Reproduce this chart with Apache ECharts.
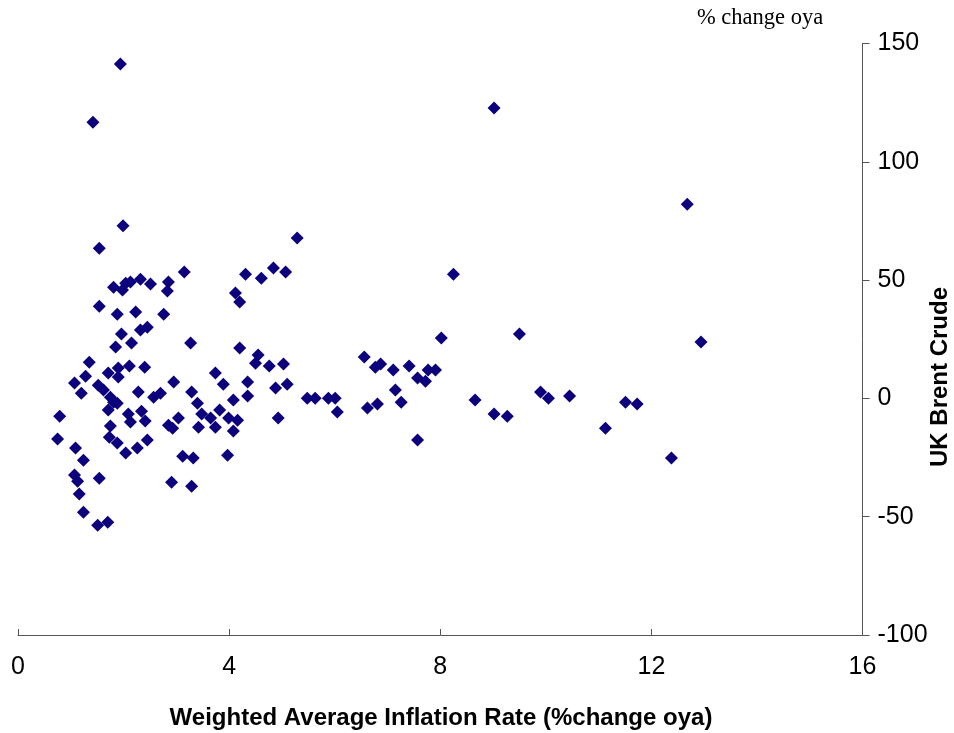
<!DOCTYPE html>
<html>
<head>
<meta charset="utf-8">
<script src="https://cdn.jsdelivr.net/npm/echarts@6/dist/echarts.min.js"></script>
<style>
html,body{margin:0;padding:0;background:#fff;}
#chart{width:954px;height:733px;}
</style>
</head>
<body>
<div id="chart"></div>
<script>
// Weighted Average Inflation Rate (% change oya)
var inflation = [
1.42,1.94,9.02,12.68,12.94,1.99,1.54,5.29,3.15,4.31,4.61,4.84,5.07,4.12,4.20,8.25,8.02,9.50,
1.81,1.98,2.04,2.13,2.32,2.51,2.85,2.83,1.54,1.88,2.23,2.76,1.96,2.32,2.45,1.85,2.15,3.27,
4.20,4.55,4.50,4.76,5.03,1.35,1.90,2.11,2.40,1.28,1.07,1.71,1.90,1.20,1.52,1.62,2.28,1.75,
1.81,1.88,1.71,0.79,2.09,2.13,2.34,2.41,1.75,1.73,0.75,2.95,3.29,3.74,3.89,2.57,2.70,3.40,
4.08,3.48,3.65,3.82,3.99,3.04,2.85,2.93,3.42,3.74,4.08,4.16,4.35,4.88,5.10,4.35,4.93,5.48,
5.63,5.88,6.01,6.05,1.88,2.04,2.26,2.45,1.09,1.24,1.07,1.13,1.54,1.16,1.24,1.51,1.70,3.12,
3.32,3.97,2.91,3.29,6.56,6.77,6.87,7.11,7.41,7.57,7.72,7.77,7.91,7.15,7.26,6.62,6.81,8.66,
9.90,10.05,10.45,9.02,9.27,7.57,11.13,11.51,11.73,12.38
];
// UK Brent Crude (% change oya)
var brent = [
116.7,141.3,122.7,82.1,23.8,73.0,63.5,67.8,53.4,52.5,50.8,55.1,53.4,44.5,40.7,52.5,25.5,27.2,
47.0,45.8,48.7,49.2,50.4,48.3,49.2,45.4,39.0,35.6,36.5,35.6,27.2,28.9,30.1,21.7,23.4,23.4,
21.3,18.3,14.9,13.7,14.5,15.3,12.8,13.7,13.2,9.4,6.5,10.7,9.0,2.2,5.6,3.5,2.7,0.5,
-1.6,-2.0,-4.9,-7.5,-6.6,-10.0,-5.4,-9.6,-11.7,-16.4,-17.2,6.9,2.7,10.7,6.0,0.5,2.2,-2.0,
-0.7,-6.6,-8.3,-4.9,-8.3,-8.3,-11.3,-12.6,-12.2,-12.2,-13.8,-9.2,6.9,4.4,6.0,1.0,-8.3,0.1,
0.1,0.1,0.1,-5.8,-18.9,-23.1,-21.0,-17.6,-21.0,-26.1,-32.4,-35.0,-33.7,-40.4,-48.1,-53.6,-52.3,-24.4,
-25.2,-24.0,-35.4,-37.1,17.5,13.2,14.5,12.0,13.7,8.6,7.3,12.0,12.0,3.5,-1.6,-4.1,-2.4,-0.7,
2.7,0.1,1.0,-6.6,-7.5,-17.6,-12.6,-1.6,-2.4,-25.2
];
var xTicks = [0, 4, 8, 12, 16];
var yTicks = [-100, -50, 0, 50, 100, 150];

var points = inflation.map(function (v, i) { return [v, brent[i]]; });

var chart = echarts.init(document.getElementById('chart'), null, {renderer: 'canvas'});
var sans = "'Liberation Sans', Arial, sans-serif";
chart.setOption({
  animation: false,
  backgroundColor: '#ffffff',
  grid: {left: 18, right: 91.5, top: 43.5, bottom: 98, containLabel: false},
  xAxis: {
    type: 'value',
    min: xTicks[0], max: xTicks[xTicks.length - 1], interval: 4,
    axisLine: {show: true, onZero: false, lineStyle: {color: '#555555', width: 1}},
    axisTick: {show: true, inside: true, length: 6, lineStyle: {color: '#555555'}},
    axisLabel: {fontFamily: sans, fontSize: 25, color: '#000', margin: 20},
    splitLine: {show: false}
  },
  yAxis: {
    type: 'value', position: 'right',
    min: yTicks[0], max: yTicks[yTicks.length - 1], interval: 50,
    axisLine: {show: true, onZero: false, lineStyle: {color: '#555555', width: 1}},
    axisTick: {show: true, inside: false, length: 7, lineStyle: {color: '#555555'}},
    axisLabel: {fontFamily: sans, fontSize: 25, color: '#000', margin: 15},
    splitLine: {show: false}
  },
  graphic: [
    {type: 'text', left: 697, top: 7,
     style: {text: '% change oya', font: "22.5px 'Liberation Serif', 'Times New Roman', serif", fill: '#000'}},
    {type: 'text', x: 441, y: 718,
     style: {text: 'Weighted Average Inflation Rate (%change oya)', font: "bold 24px " + sans, fill: '#000', align: 'center', verticalAlign: 'middle'}},
    {type: 'text', x: 940, y: 377, rotation: Math.PI / 2,
     style: {text: 'UK Brent Crude', font: "bold 24px " + sans, fill: '#000', align: 'center', verticalAlign: 'middle'}}
  ],
  series: [{
    type: 'scatter',
    data: points,
    symbol: 'diamond',
    symbolSize: 13,
    itemStyle: {color: '#0c007c', opacity: 1},
    emphasis: {disabled: true}
  }]
});
</script>
</body>
</html>
